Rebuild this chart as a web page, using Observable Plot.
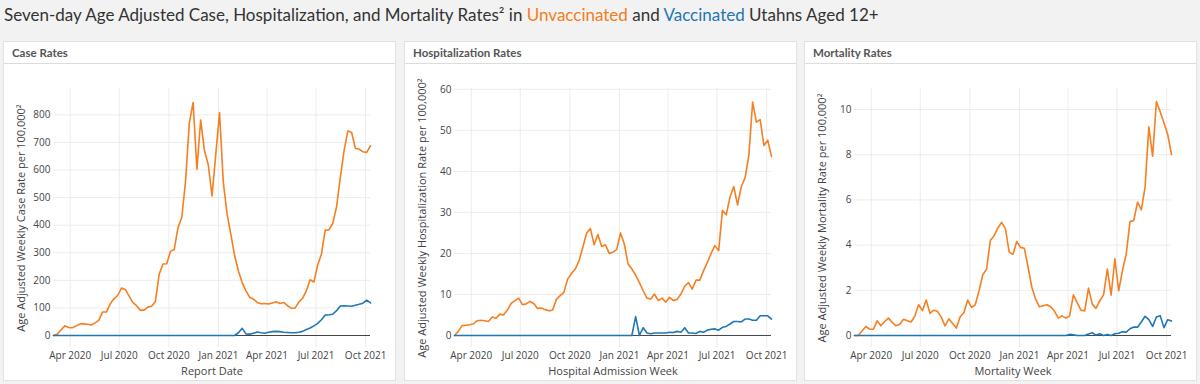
<!DOCTYPE html>
<html><head><meta charset="utf-8">
<script src="https://cdn.jsdelivr.net/npm/d3@7"></script>
<script src="https://cdn.jsdelivr.net/npm/@observablehq/plot@0.6"></script>
<style>
body{margin:0;background:#f2f2f2;width:1200px;height:384px;overflow:hidden;position:relative;font-family:Lato,"Noto Sans",sans-serif}
#title{position:absolute;left:4px;top:4px;font-size:17px;color:#333;white-space:nowrap}
#title .u{color:#f47d20}
#title .v{color:#1f77b4}
.panel{position:absolute;top:41px;width:393px;height:340px;background:#fff;border:1px solid #e2e2e2;box-sizing:border-box}
.head{height:21px;border-bottom:1px solid #dcdcdc;font-size:11.5px;font-weight:bold;color:#555;line-height:22px;padding-left:8px}
.chart{position:absolute;top:22px;left:0}
</style></head><body>
<div id="title">Seven-day Age Adjusted Case, Hospitalization, and Mortality Rates² in <span class="u">Unvaccinated</span> and <span class="v">Vaccinated</span> Utahns Aged 12+</div>
<div class="panel" style="left:3px"><div class="head">Case Rates</div><div class="chart" id="c1"></div></div>
<div class="panel" style="left:404px"><div class="head">Hospitalization Rates</div><div class="chart" id="c2"></div></div>
<div class="panel" style="left:804px"><div class="head">Mortality Rates</div><div class="chart" id="c3"></div></div>
<script>
// weekly series, first week 2020-03-01, last week 2021-10-10
const firstWeek = "2020-03-01";
const weekCount = 85;

const caseUnvaccinated = [0,5,20,35,29,28,35,42,42,41,38,46,55,85,85,114,133,145,172,167,144,120,108,92,92,103,106,123,222,259,260,305,312,392,428,561,772,845,603,781,670,620,506,657,808,555,440,367,289,234,192,162,138,132,120,115,116,114,118,122,116,120,108,99,99,121,135,162,202,194,256,295,382,383,407,466,573,670,742,736,678,676,666,664,688];
const caseVaccinated = [0,0,0,0,0,0,0,0,0,0,0,0,0,0,0,0,0,0,0,0,0,0,0,0,0,0,0,0,0,0,0,0,0,0,0,0,0,0,0,0,0,0,0,0,0,0,0,0,0,10,26,6,5,8,13,10,8,12,14,15,14,12,11,10,10,12,15,22,27,35,44,57,74,75,77,90,107,108,107,106,110,113,117,128,118];

const hospUnvaccinated = [0,1,2.4,2.5,2.6,2.8,3.6,3.7,3.6,3.4,4.5,4.2,5.2,5.0,6.2,7.8,8.5,9.1,7.5,7.7,8.3,7.8,6.6,6.7,6.3,6.0,6.2,8.8,9.7,10.5,13.8,15.1,16.2,18.2,21.5,24.9,26.1,22.1,24.6,21.7,22.1,20.0,20.3,21.0,25.0,22.3,17.4,16.2,14.7,12.9,10.9,9.1,8.9,10.1,8.5,9.1,8.1,9.3,8.5,8.8,10.1,12.0,12.9,11.3,13.5,13.5,15.8,17.8,20.0,21.9,20.7,30.5,29.4,33.7,36.3,31.8,36.3,38.4,43.9,56.9,52.0,52.6,46.3,47.6,43.6];
const hospVaccinated = [0,0,0,0,0,0,0,0,0,0,0,0,0,0,0,0,0,0,0,0,0,0,0,0,0,0,0,0,0,0,0,0,0,0,0,0,0,0,0,0,0,0,0,0,0,0,0,0,4.6,0,1.9,0.6,0.4,0.6,0.6,0.6,0.6,0.8,0.7,1.0,0.8,1.9,0.6,0.6,0.5,1.0,0.8,1.3,1.5,1.6,1.3,2.0,2.2,2.8,3.4,3.4,3.3,4.0,4.0,3.7,3.7,4.8,4.8,4.8,4.0];

const mortUnvaccinated = [0,0,0.2,0.4,0.28,0.28,0.65,0.43,0.62,0.77,0.58,0.43,0.5,0.72,0.65,0.6,0.87,1.36,1.1,1.57,0.98,1.12,1.07,0.8,0.43,0.74,0.53,0.33,0.83,1.02,1.57,1.24,1.36,1.98,2.69,2.94,4.2,4.42,4.76,5.01,4.72,3.68,3.6,4.16,3.9,3.86,3.02,2.13,1.61,1.27,1.32,1.36,1.27,1.07,0.77,0.87,0.77,0.87,1.8,1.46,1.12,1.09,2.1,1.39,1.2,1.54,1.8,2.94,1.79,3.39,1.98,2.87,3.6,5.04,5.09,5.9,5.56,6.57,9.23,7.93,10.35,9.9,9.4,8.9,8.0];
const mortVaccinated = [0,0,0,0,0,0,0,0,0,0,0,0,0,0,0,0,0,0,0,0,0,0,0,0,0,0,0,0,0,0,0,0,0,0,0,0,0,0,0,0,0,0,0,0,0,0,0,0,0,0,0,0,0,0,0,0,0,0.05,0.03,0,0,0,0.07,0.12,0.02,0.08,0,0.05,0,0.08,0.1,0.17,0.15,0.3,0.38,0.37,0.6,0.85,0.7,0.4,0.82,0.88,0.35,0.7,0.64];

const caseTicks = [0,100,200,300,400,500,600,700,800];
const hospTicks = [0,10,20,30,40,50,60];
const mortTicks = [0,2,4,6,8,10];
const monthTicks = ["2020-04-01","2020-07-01","2020-10-01","2021-01-01","2021-04-01","2021-07-01","2021-10-01"].map(d => new Date(d));

const ORANGE = "#f57f21";
const BLUE = "#1f77b4";

const start = new Date(firstWeek);
const dates = d3.range(weekCount).map(i => d3.utcDay.offset(start, 7 * i));

function chart(el, unv, vax, yDomain, yTicks, yLabel, xLabel) {
  const data = dates.map((d, i) => ({date: d, unv: unv[i], vax: vax[i]}));
  const x0 = dates[0], x1 = dates[dates.length - 1];
  const svg = Plot.plot({
    width: 391, height: 316,
    marginLeft: 49, marginRight: 25, marginTop: 24, marginBottom: 33,
    style: {fontFamily: "'Open Sans', sans-serif", fontSize: "10px", color: "#444", background: "transparent", overflow: "visible"},
    x: {type: "utc", domain: [x0, x1]},
    y: {domain: yDomain},
    marks: [
      Plot.gridX(monthTicks, {stroke: "#ececec", strokeOpacity: 1}),
      Plot.gridY(yTicks.filter(v => v !== 0), {stroke: "#ececec", strokeOpacity: 1}),
      Plot.axisX(monthTicks, {tickSize: 0, tickPadding: 4, tickFormat: d3.utcFormat("%b %Y"), label: null, fill: "#444"}),
      Plot.axisY(yTicks, {tickSize: 0, tickPadding: 3, label: null, fill: "#444"}),
      Plot.ruleY([0], {x1: x0, x2: x1, stroke: "#444", strokeWidth: 1}),
      Plot.line(data, {x: "date", y: "unv", stroke: ORANGE, strokeWidth: 1.6}),
      Plot.line(data, {x: "date", y: "vax", stroke: BLUE, strokeWidth: 1.6}),
      Plot.text([yLabel], {frameAnchor: "left", textAnchor: "middle", lineAnchor: "middle", rotate: -90, dx: -32, fontSize: 11, fill: "#444"}),
      Plot.text([xLabel], {frameAnchor: "bottom", textAnchor: "middle", lineAnchor: "middle", dy: 24, fontSize: 11, fill: "#444"})
    ]
  });
  document.getElementById(el).appendChild(svg);
}

chart("c1", caseUnvaccinated, caseVaccinated, [-43.5, 895.6], caseTicks, "Age Adjusted Weekly Case Rate per 100,000²", "Report Date");
chart("c2", hospUnvaccinated, hospVaccinated, [-2.93, 60.2], hospTicks, "Age Adjusted Weekly Hospitalization Rate per 100,000²", "Hospital Admission Week");
chart("c3", mortUnvaccinated, mortVaccinated, [-0.53, 10.93], mortTicks, "Age Adjusted Weekly Mortality Rate per 100,000²", "Mortality Week");
</script>
</body></html>
